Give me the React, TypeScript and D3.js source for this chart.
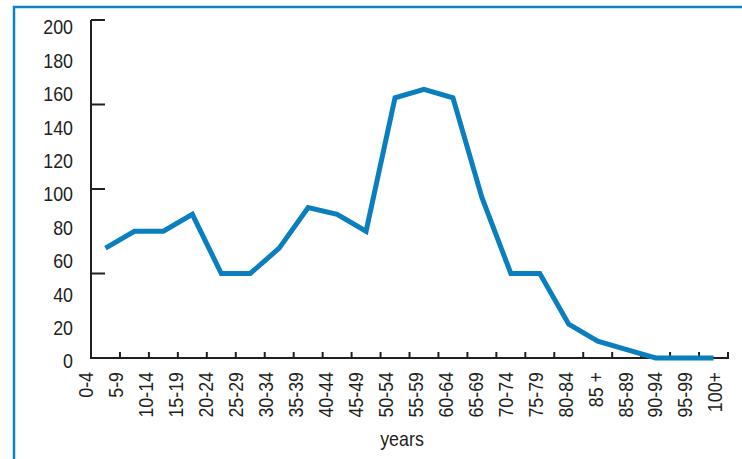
import { useEffect, useRef } from "react"
import * as d3 from "d3"

const ageGroups = ["0-4", "5-9", "10-14", "15-19", "20-24", "25-29", "30-34", "35-39", "40-44", "45-49",
    "50-54", "55-59", "60-64", "65-69", "70-74", "75-79", "80-84", "85 +", "85-89", "90-94", "95-99", "100+"]
const counts = [65, 75, 75, 85, 50, 50, 65, 89, 85, 75, 154, 159, 154, 95, 50, 50, 20, 10, 5, 0, 0, 0]
const yTickValues = [0, 50, 100, 150, 200]
const yLabelValues = [0, 20, 40, 60, 80, 100, 120, 140, 160, 180, 200]

const FONT = "'Liberation Sans', Arial, sans-serif"
const AXIS = "#231f20"
const BLUE = "#0b7fbd"
const SQUEEZE = 0.85 // fake a condensed face

export default function App() {
    const svgRef = useRef<SVGSVGElement>(null)
    const width = 742, height = 459

    useEffect(() => {
        const svg = d3.select(svgRef.current)
        svg.selectAll("*").remove()

        const left = 91, right = 728, top = 20, bottom = 358

        // frame
        svg.append("rect")
            .attr("x", 14).attr("y", 7)
            .attr("width", 800).attr("height", 600)
            .attr("fill", "none")
            .attr("stroke", "#0a84c6")
            .attr("stroke-width", 2.5)

        const x = d3.scaleBand().domain(ageGroups).range([left, right]).padding(0)
        const xLabel = d3.scalePoint().domain(ageGroups).range([86, 715])
        const y = d3.scaleLinear().domain([0, 200]).range([bottom, top])
        const yLabel = d3.scaleLinear().domain([0, 200]).range([361, 27])

        const g = svg.append("g")

        // y axis line + ticks (inside)
        g.append("line")
            .attr("x1", left).attr("x2", left)
            .attr("y1", top).attr("y2", bottom)
            .attr("stroke", AXIS).attr("stroke-width", 2)
        g.selectAll(".ytick")
            .data(yTickValues)
            .join("line")
                .attr("x1", left).attr("x2", left + 14)
                .attr("y1", d => y(d)).attr("y2", d => y(d))
                .attr("stroke", AXIS).attr("stroke-width", 2)

        g.selectAll(".ylab")
            .data(yLabelValues)
            .join("text")
                .attr("transform", d => `translate(73,${yLabel(d)}) scale(${SQUEEZE},1)`)
                .attr("dy", "0.35em")
                .attr("text-anchor", "end")
                .style("font-family", FONT)
                .style("font-size", "21px")
                .attr("fill", AXIS)
                .text(d => d)

        // x axis line + ticks (inside)
        g.append("line")
            .attr("x1", left - 1).attr("x2", right + 1)
            .attr("y1", bottom).attr("y2", bottom)
            .attr("stroke", AXIS).attr("stroke-width", 2)
        const tickXs = ageGroups.map(d => x(d)!).slice(1).concat([right])
        g.selectAll(".xtick")
            .data(tickXs)
            .join("line")
                .attr("x1", d => d).attr("x2", d => d)
                .attr("y1", bottom).attr("y2", bottom - 6)
                .attr("stroke", AXIS).attr("stroke-width", 2)

        g.selectAll(".xlab")
            .data(ageGroups)
            .join("text")
                .attr("transform", d => `translate(${xLabel(d)},372) rotate(-90) scale(${SQUEEZE},1)`)
                .attr("dy", "0.35em")
                .attr("text-anchor", "end")
                .style("font-family", FONT)
                .style("font-size", "21px")
                .attr("fill", AXIS)
                .text(d => d)

        // x-axis title
        g.append("text")
            .attr("transform", `translate(402,446) scale(${SQUEEZE},1)`)
            .attr("text-anchor", "middle")
            .style("font-family", FONT)
            .style("font-size", "21px")
            .attr("fill", AXIS)
            .text("years")

        // data line
        const line = d3.line<number>()
            .x((_, i) => x(ageGroups[i])! + x.bandwidth() / 2)
            .y(d => y(d))

        g.append("path")
            .datum(counts)
            .attr("d", line)
            .attr("fill", "none")
            .attr("stroke", BLUE)
            .attr("stroke-width", 5)
            .attr("stroke-linejoin", "miter")
    }, [])

    return (
        <svg ref={svgRef} width={width} height={height}
            style={{ position: "absolute", left: 0, top: 0, background: "#fff" }}></svg>
    )
}
